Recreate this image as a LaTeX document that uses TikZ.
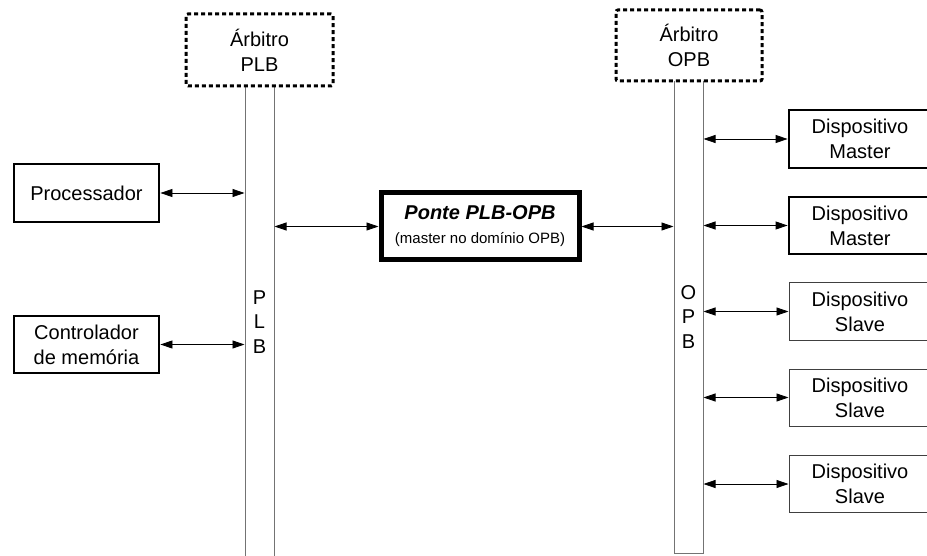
\documentclass[tikz,border=0pt]{standalone}
\usepackage{fontspec}
\setmainfont{Liberation Sans}
\usetikzlibrary{arrows.meta}

\begin{document}
\begin{tikzpicture}[x=1pt, y=-1pt,
    box/.style={draw, line width=2.8pt, rectangle, align=center, inner sep=0pt,
        minimum width=145pt, minimum height=57pt, font=\fontsize{20}{25}\selectfont},
    slavebox/.style={box, line width=1pt, draw=black!75},
    arbiter/.style={box, line width=3pt, dash pattern=on 4pt off 3pt, fill=white, rounded corners=2pt},
    bus/.style={draw=black!55, line width=1pt, rectangle, align=center, inner sep=0pt,
        minimum width=29pt, minimum height=472pt, font=\fontsize{20}{24.5}\selectfont},
    link/.style={{Triangle[length=12pt,width=8pt]}-{Triangle[length=12pt,width=8pt]}, line width=0.8pt}
]
    \useasboundingbox (0,0) rectangle (927,556);

    % Buses
    \node[bus] (plb) at (259.5,322) {P\\L\\B};
    \node[bus] (opb) at (688.5,317) {O\\P\\B};

    % Arbiters
    \node[arbiter, minimum width=147pt, minimum height=72pt] (arbplb) at (259.5,50) {Árbitro\\PLB};
    \node[arbiter, minimum width=146pt, minimum height=71pt] (arbopb) at (689,45.5) {Árbitro\\OPB};

    % PLB side
    \node[box, minimum height=58pt] (proc) at (86.5,193) {Processador};
    \node[box] (mem) at (86.5,344.5) {Controlador\\de memória};

    % Bridge
    \node[box, line width=5pt, minimum width=198pt, minimum height=67pt] (ponte) at (480,226.5)
        {\textbf{\textit{Ponte PLB-OPB}}\\[-1pt]{\fontsize{15}{18}\selectfont (master no domínio OPB)}};

    % OPB side
    \node[box, minimum width=142pt, minimum height=58pt] (mst1) at (860,139) {Dispositivo\\Master};
    \node[box, minimum width=142pt] (mst2) at (860,225.5) {Dispositivo\\Master};
    \foreach \n/\y in {slv1/311.5, slv2/397.5, slv3/484} {
        \node[slavebox, minimum width=142pt] (\n) at (860,\y) {Dispositivo\\Slave};
    }

    % Links
    \draw[link] (proc.east) -- (proc.east -| plb.west);
    \draw[link] (mem.east) -- (mem.east -| plb.west);
    \draw[link] (ponte.west) -- (ponte.west -| plb.east);
    \draw[link] (ponte.east) -- (ponte.east -| opb.west);
    \foreach \n in {mst1, mst2, slv1, slv2, slv3} {
        \draw[link] (\n.west) -- (\n.west -| opb.east);
    }

\end{tikzpicture}
\end{document}
